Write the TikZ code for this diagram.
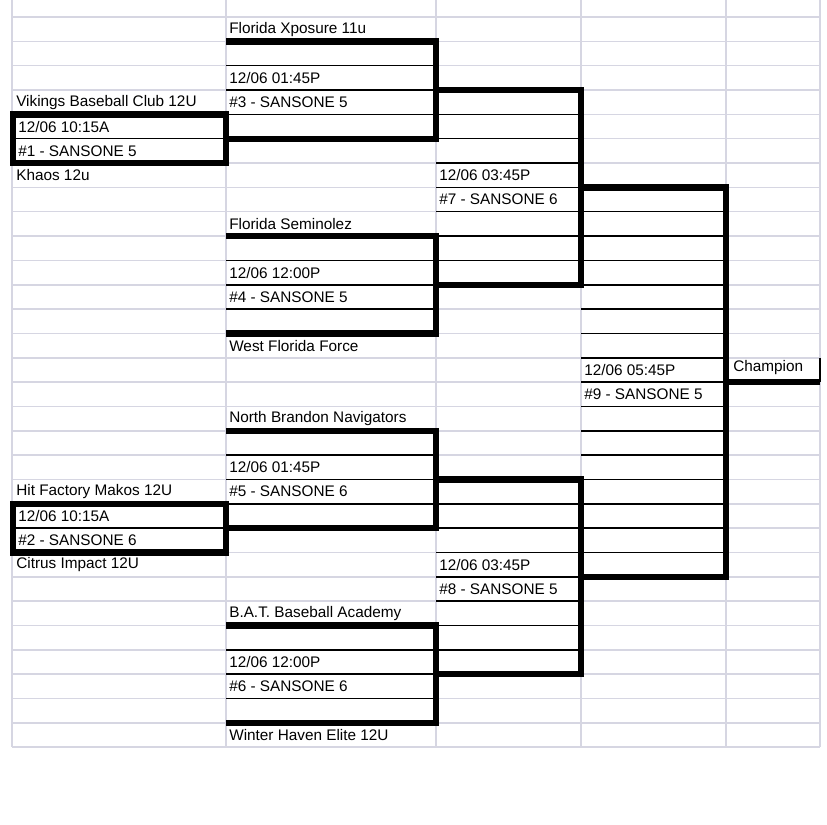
\documentclass[tikz,border=0pt]{standalone}
\usepackage{fontspec}
\setmainfont{Liberation Sans}
\definecolor{sheetgrid}{HTML}{D6D6E2}
\tikzset{
  gridline/.style={draw=sheetgrid, line width=1.1pt},
  thinline/.style={draw=black, line width=1.1pt},
  thickline/.style={draw=black, line width=4.5pt, line join=miter, line cap=butt},
  celltext/.style={anchor=west, inner sep=0pt, font=\fontsize{10.9}{12}\selectfont}
}
% one match box: x left, x right, top row, bottom row
\newcommand{\matchbox}[4]{%
  \pgfmathtruncatemacro{\mfirst}{#3+1}
  \pgfmathtruncatemacro{\mlast}{#4-1}
  \foreach \r in {\mfirst,...,\mlast} \draw[thinline] (#1,\r) -- (#2,\r);
  \draw[thickline] (#1,#3) -- (#2,#3) -- (#2,#4) -- (#1,#4);
}
\begin{document}
\begin{tikzpicture}[x=0.025cm, y=-0.6083cm]
  \useasboundingbox (0,-0.699) rectangle (827,33.17);

  %Grid
  \foreach \r in {0,...,30} \draw[gridline] (12,\r) -- (820,\r);
  \foreach \c in {12,226,436,581,726,820} \draw[gridline] (\c,-0.699) -- (\c,30);

  %Matches
  \matchbox{226}{436}{1}{5}
  \matchbox{226}{436}{9}{13}
  \matchbox{226}{436}{17}{21}
  \matchbox{226}{436}{25}{29}
  \matchbox{436}{581}{3}{11}
  \matchbox{436}{581}{19}{27}
  \matchbox{581}{726}{7}{23}
  \draw[thinline] (12,5) -- (226,5);
  \draw[thinline] (12,21) -- (226,21);
  \draw[thickline] (13,4) rectangle (226,6);
  \draw[thickline] (13,20) rectangle (226,22);
  \draw[thinline] (820,14) -- (820,15);
  \draw[thickline] (726,15) -- (820,15);

  %Labels
  \node[celltext] (t1) at (229,0.5) {Florida Xposure 11u};
  \node[celltext] (g3a) at (229,2.5) {12/06 01:45P};
  \node[celltext] (g3b) at (229,3.5) {\#3 - SANSONE 5};
  \node[celltext] (t2) at (16,3.5) {Vikings Baseball Club 12U};
  \node[celltext] (g1a) at (18,4.5) {12/06 10:15A};
  \node[celltext] (g1b) at (18,5.5) {\#1 - SANSONE 5};
  \node[celltext] (t3) at (16,6.5) {Khaos 12u};
  \node[celltext] (g7a) at (439,6.5) {12/06 03:45P};
  \node[celltext] (g7b) at (439,7.5) {\#7 - SANSONE 6};
  \node[celltext] (t4) at (229,8.5) {Florida Seminolez};
  \node[celltext] (g4a) at (229,10.5) {12/06 12:00P};
  \node[celltext] (g4b) at (229,11.5) {\#4 - SANSONE 5};
  \node[celltext] (t5) at (229,13.5) {West Florida Force};
  \node[celltext] (g9a) at (584,14.5) {12/06 05:45P};
  \node[celltext] (g9b) at (584,15.5) {\#9 - SANSONE 5};
  \node[celltext] (champ) at (733,14.4) {Champion};
  \node[celltext] (t6) at (229,16.5) {North Brandon Navigators};
  \node[celltext] (g5a) at (229,18.5) {12/06 01:45P};
  \node[celltext] (g5b) at (229,19.5) {\#5 - SANSONE 6};
  \node[celltext] (t7) at (16,19.5) {Hit Factory Makos 12U};
  \node[celltext] (g2a) at (18,20.5) {12/06 10:15A};
  \node[celltext] (g2b) at (18,21.5) {\#2 - SANSONE 6};
  \node[celltext] (t8) at (16,22.5) {Citrus Impact 12U};
  \node[celltext] (g8a) at (439,22.5) {12/06 03:45P};
  \node[celltext] (g8b) at (439,23.5) {\#8 - SANSONE 5};
  \node[celltext] (t9) at (229,24.5) {B.A.T. Baseball Academy};
  \node[celltext] (g6a) at (229,26.5) {12/06 12:00P};
  \node[celltext] (g6b) at (229,27.5) {\#6 - SANSONE 6};
  \node[celltext] (t10) at (229,29.5) {Winter Haven Elite 12U};
\end{tikzpicture}
\end{document}
